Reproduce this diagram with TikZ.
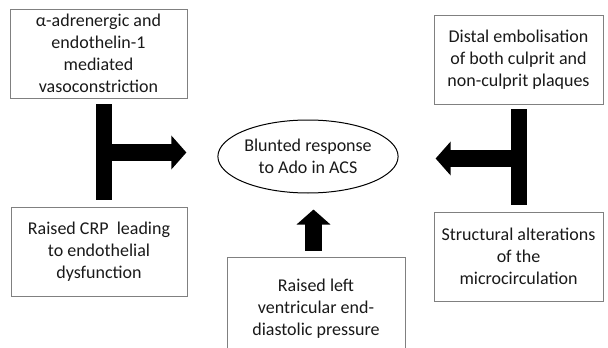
\documentclass[tikz,border=0pt]{standalone}
\usepackage{fontspec}
\setmainfont{Carlito}
\usetikzlibrary{arrows.meta,shapes.geometric}
\tikzset{cause/.style={draw=black!50, line width=0.9pt, align=center, inner sep=0pt,
                       minimum width=177pt, minimum height=89pt, text=black!90,
                       font=\fontsize{18}{22}\selectfont},
         effect/.style={draw, ellipse, line width=1pt, align=center, inner sep=0pt,
                        minimum width=180pt, minimum height=73pt, text=black!90,
                        font=\fontsize{18}{22}\selectfont},
         tbar/.style={line width=16pt},
         fatarrow/.style={line width=17pt, -{Triangle[length=15pt,width=33pt]}}}

\begin{document}
\begin{tikzpicture}[x=1pt,y=-1pt]
\clip (0,0) rectangle (608,348);
\node [cause] (alpha) at (98.5,53.5) {α-adrenergic and\\endothelin-1\\mediated\\vasoconstriction};
\node [cause, minimum width=176pt] (crp) at (99,251.5) {Raised CRP\ \ leading\\to endothelial\\dysfunction};
\node [cause, minimum width=169pt] (embol) at (518.5,59.5) {Distal embolisation\\of both culprit and\\non-culprit plaques};
\node [cause, minimum width=169pt] (micro) at (518.5,256.5) {Structural alterations\\of the\\microcirculation};
\node [cause, minimum width=178pt, minimum height=104pt] (lvedp) at (316,309) {Raised left\\ventricular end-\\diastolic pressure};
\node [effect] (ado) at (308,156.5) {Blunted response\\to Ado in ACS};
% left T
\coordinate (jl) at (104,152.5);
\draw [tbar, shorten <=6pt, shorten >=7pt] (jl |- alpha.south) -- (jl |- crp.north);
\draw [fatarrow, shorten >=31pt] (jl) -- (jl -| ado.west);
% right T
\coordinate (jr) at (518.5,158.5);
\draw [tbar, shorten <=5pt, shorten >=7pt] (jr |- embol.south) -- (jr |- micro.north);
\draw [fatarrow, shorten >=37pt] (jr) -- (jr -| ado.east);
% bottom
\coordinate (ju) at (313.5,257);
\draw [fatarrow, shorten <=6pt, shorten >=16pt] (ju |- lvedp.north) -- (ju |- ado.south);
\end{tikzpicture}
\end{document}
